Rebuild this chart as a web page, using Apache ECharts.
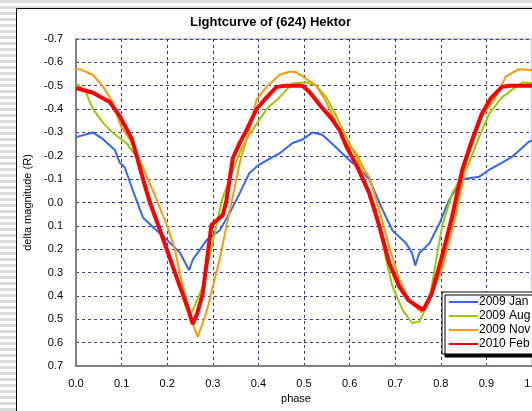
<!DOCTYPE html>
<html>
<head>
<meta charset="utf-8">
<script src="https://cdn.jsdelivr.net/npm/echarts@6/dist/echarts.min.js"></script>
<style>
    html, body {
        margin: 0;
        padding: 0;
    }
    body {
        background: repeating-linear-gradient(to bottom, #dcdcdc 0px, #dcdcdc 3px, #ffffff 3px, #ffffff 6px);
    }
    #chart {
        width: 532px;
        height: 411px;
    }
</style>
</head>
<body>
<div id="chart"></div>
<script>
    // 2009 Jan
    var janPhase = [0, 0.037, 0.06, 0.085, 0.096, 0.107, 0.125, 0.147, 0.177, 0.2, 0.228, 0.248, 0.256, 0.287, 0.315, 0.337, 0.359, 0.38, 0.4, 0.418, 0.446, 0.475, 0.497, 0.519, 0.54, 0.56, 0.584, 0.606, 0.615, 0.643, 0.672, 0.694, 0.724, 0.737, 0.744, 0.753, 0.775, 0.797, 0.818, 0.847, 0.884, 0.906, 0.943, 0.956, 0.993, 1.0];
    var janMag = [-0.28, -0.30, -0.27, -0.225, -0.17, -0.15, -0.05, 0.065, 0.12, 0.16, 0.215, 0.29, 0.245, 0.16, 0.12, 0.045, -0.04, -0.125, -0.16, -0.18, -0.21, -0.255, -0.27, -0.30, -0.29, -0.255, -0.21, -0.17, -0.16, -0.10, 0.03, 0.12, 0.175, 0.216, 0.27, 0.216, 0.175, 0.09, -0.01, -0.10, -0.11, -0.14, -0.18, -0.195, -0.26, -0.265];

    // 2009 Aug
    var augPhase = [0, 0.02, 0.037, 0.06, 0.08, 0.11, 0.133, 0.15, 0.165, 0.18, 0.199, 0.22, 0.243, 0.254, 0.278, 0.3, 0.32, 0.344, 0.365, 0.387, 0.418, 0.446, 0.475, 0.505, 0.527, 0.549, 0.571, 0.593, 0.615, 0.658, 0.68, 0.694, 0.716, 0.737, 0.753, 0.775, 0.79, 0.803, 0.825, 0.86, 0.884, 0.906, 0.934, 0.965, 0.98, 1.0];
    var augMag = [-0.51, -0.48, -0.40, -0.34, -0.30, -0.255, -0.195, -0.09, 0.0, 0.09, 0.19, 0.31, 0.46, 0.47, 0.36, 0.17, -0.01, -0.14, -0.24, -0.31, -0.40, -0.45, -0.51, -0.515, -0.50, -0.45, -0.37, -0.28, -0.195, 0.03, 0.245, 0.36, 0.46, 0.516, 0.51, 0.42, 0.245, 0.10, -0.04, -0.16, -0.28, -0.38, -0.45, -0.495, -0.515, -0.51];

    // 2009 Nov
    var novPhase = [0, 0.01, 0.037, 0.06, 0.08, 0.10, 0.118, 0.133, 0.169, 0.2, 0.217, 0.234, 0.256, 0.267, 0.286, 0.293, 0.30, 0.315, 0.33, 0.352, 0.359, 0.38, 0.396, 0.418, 0.446, 0.468, 0.48, 0.497, 0.527, 0.549, 0.571, 0.593, 0.615, 0.632, 0.643, 0.665, 0.687, 0.709, 0.73, 0.757, 0.775, 0.803, 0.834, 0.856, 0.862, 0.89, 0.92, 0.943, 0.97, 1.0];
    var novMag = [-0.57, -0.57, -0.546, -0.495, -0.43, -0.32, -0.27, -0.21, -0.05, 0.10, 0.20, 0.36, 0.52, 0.576, 0.47, 0.42, 0.36, 0.245, 0.10, -0.10, -0.17, -0.31, -0.44, -0.495, -0.546, -0.56, -0.56, -0.54, -0.50, -0.43, -0.34, -0.255, -0.21, -0.14, -0.11, 0.03, 0.19, 0.33, 0.42, 0.47, 0.42, 0.28, 0.045, -0.17, -0.21, -0.366, -0.45, -0.54, -0.57, -0.567];

    // 2010 Feb
    var febPhase = [0, 0.037, 0.074, 0.096, 0.123, 0.133, 0.147, 0.162, 0.179, 0.199, 0.217, 0.228, 0.245, 0.256, 0.265, 0.278, 0.287, 0.297, 0.322, 0.33, 0.344, 0.359, 0.374, 0.396, 0.418, 0.44, 0.46, 0.497, 0.512, 0.54, 0.56, 0.578, 0.593, 0.615, 0.643, 0.665, 0.687, 0.709, 0.73, 0.753, 0.762, 0.78, 0.80, 0.825, 0.847, 0.869, 0.89, 0.91, 0.934, 0.95, 1.0];
    var febMag = [-0.49, -0.47, -0.43, -0.37, -0.27, -0.20, -0.10, 0.0, 0.09, 0.20, 0.30, 0.36, 0.45, 0.52, 0.48, 0.39, 0.25, 0.096, 0.053, -0.01, -0.19, -0.255, -0.31, -0.40, -0.45, -0.495, -0.5, -0.5, -0.473, -0.405, -0.36, -0.31, -0.24, -0.16, -0.04, 0.10, 0.26, 0.36, 0.42, 0.45, 0.46, 0.39, 0.25, 0.06, -0.14, -0.27, -0.38, -0.447, -0.495, -0.5, -0.5];

    var seriesNames = ['2009 Jan', '2009 Aug', '2009 Nov', '2010 Feb'];
    var seriesColors = ['#3366ff', '#99cc00', '#ff9900', '#ff0000'];

    function pairs(xs, ys) {
        var out = [];
        for (var i = 0; i < xs.length; i++) {
            out.push([xs[i], ys[i]]);
        }
        return out;
    }

    function fmt(v) {
        return Math.abs(v) < 1e-9 ? '0.0' : v.toFixed(1);
    }

    var font = 'Liberation Sans, Arial, sans-serif';
    var chart = echarts.init(document.getElementById('chart'));

    var seriesData = [
        pairs(janPhase, janMag),
        pairs(augPhase, augMag),
        pairs(novPhase, novMag),
        pairs(febPhase, febMag)
    ];

    chart.setOption({
        animation: false,
        color: seriesColors,
        graphic: [{
            type: 'rect',
            z: -10,
            shape: {x: 16.5, y: 8.5, width: 600, height: 500},
            style: {fill: '#fff', stroke: '#000', lineWidth: 1}
        }],
        title: {
            text: 'Lightcurve of (624) Hektor',
            left: 190,
            top: 16,
            padding: 0,
            textStyle: {
                fontFamily: font,
                fontSize: 13,
                fontWeight: 'bold',
                color: '#000'
            }
        },
        legend: {
            orient: 'vertical',
            left: 442,
            top: 292,
            data: seriesNames,
            itemWidth: 29,
            itemHeight: 10,
            itemGap: 0,
            padding: [3, 8, 3, 6],
            backgroundColor: '#fff',
            borderColor: '#000',
            borderWidth: 1,
            borderRadius: 0,
            shadowColor: '#000',
            shadowBlur: 0,
            shadowOffsetX: 3,
            shadowOffsetY: 3,
            selectedMode: false,
            itemStyle: {opacity: 0},
            textStyle: {
                fontFamily: font,
                fontSize: 12,
                lineHeight: 14,
                color: '#000',
                padding: [0, 0, 0, -4]
            }
        },
        grid: {
            left: 76,
            top: 39,
            right: 0,
            bottom: 45,
            outerBoundsMode: 'none',
            show: true,
            borderColor: '#999',
            borderWidth: 1
        },
        xAxis: {
            type: 'value',
            min: 0,
            max: 1,
            interval: 0.1,
            name: 'phase',
            nameLocation: 'middle',
            nameGap: 27,
            nameTextStyle: {
                fontFamily: font,
                fontSize: 11,
                color: '#000',
                padding: [0, 16, 0, 0]
            },
            axisLine: {onZero: false, lineStyle: {color: '#808080', width: 2}},
            axisTick: {show: false},
            axisLabel: {
                margin: 12,
                fontFamily: font,
                fontSize: 11,
                color: '#000',
                formatter: fmt
            },
            splitLine: {
                lineStyle: {color: '#3b3b9c', type: [3, 3], width: 1}
            }
        },
        yAxis: {
            type: 'value',
            inverse: true,
            min: -0.7,
            max: 0.7,
            interval: 0.1,
            name: 'delta magnitude (R)',
            nameLocation: 'middle',
            nameGap: 40,
            nameTextStyle: {
                fontFamily: font,
                fontSize: 11,
                color: '#000'
            },
            axisLine: {onZero: false, lineStyle: {color: '#808080', width: 2}},
            axisTick: {show: false},
            axisLabel: {
                margin: 13,
                fontFamily: font,
                fontSize: 11,
                color: '#000',
                formatter: fmt
            },
            splitLine: {
                lineStyle: {color: '#3b3b9c', type: [3, 3], width: 1}
            }
        },
        series: seriesNames.map(function (name, i) {
            return {
                name: name,
                type: 'line',
                symbol: 'none',
                data: seriesData[i],
                lineStyle: {width: i === 3 ? 4 : 2, color: seriesColors[i]},
                itemStyle: {color: seriesColors[i]},
                z: 2 + i
            };
        })
    });
</script>
</body>
</html>
